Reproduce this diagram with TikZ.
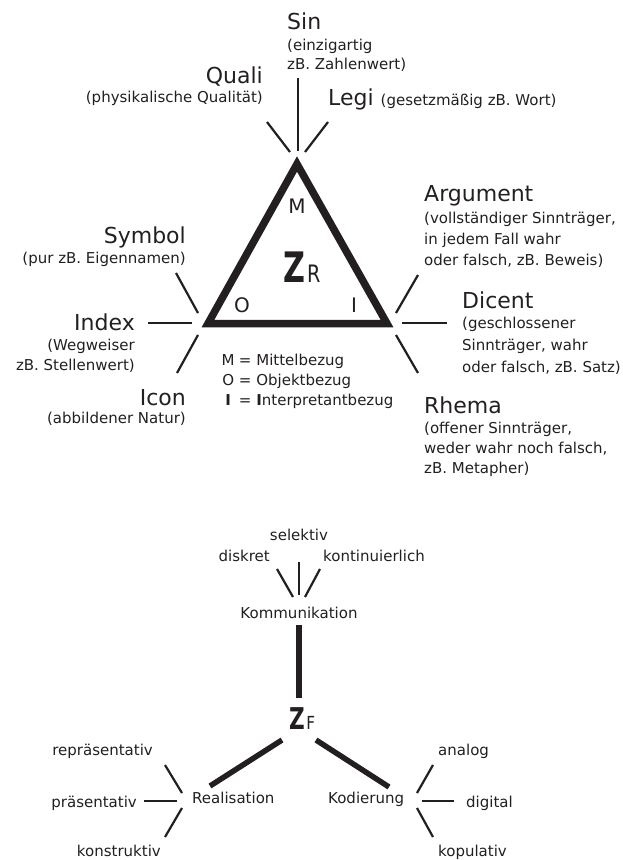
\documentclass[tikz,border=0pt]{standalone}
\usepackage{fontspec}
\setmainfont{DejaVu Sans}
\definecolor{ink}{RGB}{35,31,32}
\newcommand\TitleSz{\fontsize{22}{26}\selectfont}
\newcommand\DescSz{\fontsize{15}{21}\selectfont}
\begin{document}
\begin{tikzpicture}[x=1pt,y=-1pt,
  ttl/.style={inner sep=0pt, text=ink, font=\TitleSz},
  dsc/.style={inner sep=0pt, text=ink, font=\DescSz},
  tickline/.style={draw=ink, line width=2.2pt},
  heavy/.style={draw=ink, line width=5.5pt},
  tri/.style={draw=ink, line width=7.5pt, line join=miter}]
\useasboundingbox (0,0) rectangle (622,860);
% triangle
\coordinate (A) at (297,164);
\coordinate (L) at (208,323.5);
\coordinate (R) at (387,323.5);
\draw[tri] (A) -- (L) -- (R) -- cycle;
\node[ttl, font=\fontsize{20}{24}\selectfont, anchor=base] (M) at (297,213) {M};
\node[ttl, font=\fontsize{20}{24}\selectfont, anchor=base] (O) at (242,312) {O};
\node[ttl, font=\fontsize{20}{24}\selectfont, anchor=base] (I) at (354,312) {I};
\node[inner sep=0pt, text=ink, anchor=base west] (ZR) at (283,282)
  {{\fontsize{42}{42}\selectfont\bfseries\scalebox{0.72}[1]{Z}}\hspace{2pt}{\fontsize{24}{24}\selectfont\scalebox{0.8}[1]{R}}};
% top labels
\node[ttl, anchor=base west] (sin) at (287,29) {Sin};
\node[dsc, anchor=base west, align=left, font=\fontsize{15}{19}\selectfont] (sind) at (287,69) {(einzigartig\\zB. Zahlenwert)};
\node[ttl, anchor=base east] (quali) at (263,83) {Quali};
\node[dsc, anchor=base east] (qualid) at (263,102) {(physikalische Qualität)};
\node[ttl, anchor=base west] (legi) at (328,105) {Legi {\DescSz(gesetzmäßig zB. Wort)}};
\coordinate (s1) at (298,78);  \coordinate (s2) at (298,151);
\coordinate (q1) at (267,122); \coordinate (q2) at (290,152);
\coordinate (g1) at (328,122); \coordinate (g2) at (305,152);
\draw[tickline] (s1) -- (s2);
\draw[tickline] (q1) -- (q2);
\draw[tickline] (g1) -- (g2);
% left labels
\node[ttl, anchor=base east] (symbol) at (186,243) {Symbol};
\node[dsc, anchor=base east] (symbold) at (186,263) {(pur zB. Eigennamen)};
\node[ttl, anchor=base east] (index) at (135,330) {Index};
\node[dsc, anchor=base east, align=right, font=\fontsize{15}{20}\selectfont] (indexd) at (135,370) {(Wegweiser\\zB. Stellenwert)};
\node[ttl, anchor=base east] (icon) at (186,405) {Icon};
\node[dsc, anchor=base east] (icond) at (186,423) {(abbildener Natur)};
\coordinate (y1) at (176,273); \coordinate (y2) at (198,313);
\coordinate (x1) at (148,323); \coordinate (x2) at (192,323);
\coordinate (c1) at (198,335); \coordinate (c2) at (177,373);
\draw[tickline] (y1) -- (y2);
\draw[tickline] (x1) -- (x2);
\draw[tickline] (c1) -- (c2);
% right labels
\node[ttl, anchor=base west] (arg) at (424,201) {Argument};
\node[dsc, anchor=base west, align=left] (argd) at (424,265) {(vollständiger Sinnträger,\\in jedem Fall wahr\\oder falsch, zB. Beweis)};
\node[ttl, anchor=base west] (dic) at (462,308) {Dicent};
\node[dsc, anchor=base west, align=left, font=\fontsize{15}{22}\selectfont] (dicd) at (462,372) {(geschlossener\\Sinnträger, wahr\\oder falsch, zB. Satz)};
\node[ttl, anchor=base west] (rhe) at (424,413) {Rhema};
\node[dsc, anchor=base west, align=left, font=\fontsize{15}{20}\selectfont] (rhed) at (424,473) {(offener Sinnträger,\\weder wahr noch falsch,\\zB. Metapher)};
\coordinate (a1) at (418,275); \coordinate (a2) at (396,313);
\coordinate (d1) at (402,323); \coordinate (d2) at (447,323);
\coordinate (r1) at (396,335); \coordinate (r2) at (418,373);
\draw[tickline] (a1) -- (a2);
\draw[tickline] (d1) -- (d2);
\draw[tickline] (r1) -- (r2);
% legend
\node[dsc, anchor=base west] (legM) at (222,365) {\makebox[12pt][c]{M} = Mittelbezug};
\node[dsc, anchor=base west] (legO) at (222,385) {\makebox[12pt][c]{O} = Objektbezug};
\node[dsc, anchor=base west] (legI) at (222,405) {\makebox[12pt][c]{\bfseries I} = {\bfseries I}nterpretantbezug};
% bottom diagram
\node[dsc, anchor=base] (sel) at (299,540) {selektiv};
\node[dsc, anchor=base east] (dis) at (270,561) {diskret};
\node[dsc, anchor=base west] (kon) at (323,561) {kontinuierlich};
\node[dsc, anchor=base] (kom) at (299,618) {Kommunikation};
\coordinate (k1) at (277,569); \coordinate (k2) at (293,597);
\coordinate (k3) at (299,562); \coordinate (k4) at (299,595);
\coordinate (k5) at (320,569); \coordinate (k6) at (305,597);
\draw[tickline] (k1) -- (k2);
\draw[tickline] (k3) -- (k4);
\draw[tickline] (k5) -- (k6);
\node[inner sep=0pt, text=ink, anchor=base west] (ZF) at (289,729)
  {{\fontsize{30}{30}\selectfont\bfseries\scalebox{0.72}[1]{Z}}\hspace{1.5pt}{\fontsize{18}{18}\selectfont\scalebox{0.85}[1]{F}}};
\coordinate (h1) at (299,625); \coordinate (h2) at (299,698);
\draw[heavy] (h1) -- (h2);
\coordinate (h3) at (282,740); \coordinate (h4) at (210,786);
\coordinate (h5) at (316,740); \coordinate (h6) at (389,787);
\draw[heavy] (h3) -- (h4);
\draw[heavy] (h5) -- (h6);
\node[dsc, anchor=base west] (real) at (192,803) {Realisation};
\node[dsc, anchor=base west] (kod) at (328,803) {Kodierung};
\node[dsc, anchor=base east] (rep) at (153,755) {repräsentativ};
\node[dsc, anchor=base east] (pra) at (137,807) {präsentativ};
\node[dsc, anchor=base east] (kst) at (161,856) {konstruktiv};
\node[dsc, anchor=base west] (ana) at (438,755) {analog};
\node[dsc, anchor=base west] (dig) at (466,807) {digital};
\node[dsc, anchor=base west] (kop) at (438,856) {kopulativ};
\coordinate (e1) at (165,765); \coordinate (e2) at (182,793);
\coordinate (e3) at (144,801); \coordinate (e4) at (177,801);
\coordinate (e5) at (182,808); \coordinate (e6) at (165,837);
\draw[tickline] (e1) -- (e2);
\draw[tickline] (e3) -- (e4);
\draw[tickline] (e5) -- (e6);
\coordinate (f1) at (433,765); \coordinate (f2) at (417,793);
\coordinate (f3) at (422,801); \coordinate (f4) at (454,801);
\coordinate (f5) at (417,808); \coordinate (f6) at (433,837);
\draw[tickline] (f1) -- (f2);
\draw[tickline] (f3) -- (f4);
\draw[tickline] (f5) -- (f6);
\end{tikzpicture}
\end{document}
